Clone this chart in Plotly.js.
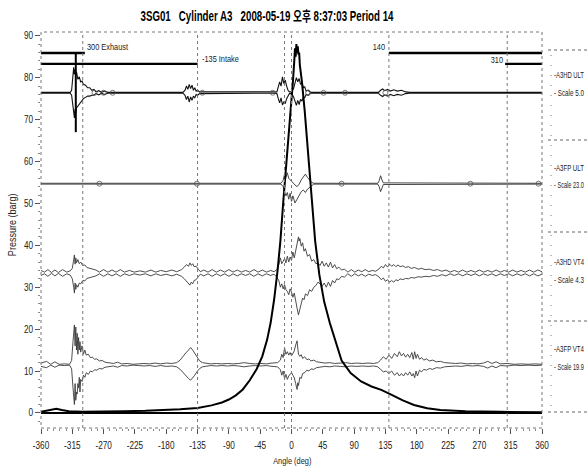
<!DOCTYPE html>
<html><head><meta charset="utf-8">
<script src="https://cdn.plot.ly/plotly-3.0.1.min.js"></script>
<style>html,body{margin:0;padding:0;background:#fff;overflow:hidden}#chart{width:587px;height:468px}</style>
</head><body><div id="chart"></div>
<script>
// ---------------- DATA ----------------
const angleTicks = [-360,-315,-270,-225,-180,-135,-90,-45,0,45,90,135,180,225,270,315,360];
const pressureTicks = [0,10,20,30,40,50,60,70,80,90];

// cylinder pressure curve [angle, barg]
const pressureCurve = [
 [-360,0.3],[-352,0.5],[-345,0.8],[-338,1.0],[-330,0.7],[-320,0.4],[-300,0.3],[-270,0.3],[-240,0.4],[-210,0.5],
 [-180,0.7],[-160,0.9],[-135,1.2],[-115,1.8],[-100,2.5],[-90,3.2],[-80,4.2],[-70,5.6],[-60,7.8],[-50,10.5],
 [-42,13.5],[-35,17.5],[-30,21.5],[-25,27],[-20,34],[-16,41],[-12,50],[-8,58],[-4,66],[0,73],
 [2,79],[4,84],[5,87],[6,85],[7,88],[8,86],[9,87.5],[10,85.5],[11,86],[12,83],
 [15,79],[19,72],[24,61],[29,50],[34,41],[40,33],[47,26.5],[55,21.5],[64,16.5],[72,12.5],
 [85,9.5],[100,7.5],[115,6.3],[129,5.5],[144,4.3],[160,3.0],[176,1.9],[195,1.1],[214,0.7],[250,0.4],
 [300,0.25],[360,0.15]
];

// A3HD ULT trace [angle, upper, lower]
const hdULT = [
 [-360,76.5,76.3],[-318,76.5,76.3],[-316,77.0,75.8],[-314,80.0,73.0],[-313,82.5,71.0],[-312,80.8,70.4],[-311,82.0,72.5],[-310,80.5,71.5],
 [-309,81.4,72.8],[-307,79.6,73.2],[-305,80.2,73.8],[-303,79.0,74.2],[-301,79.2,74.6],[-299,78.4,75.0],[-296,78.2,75.3],[-293,77.6,75.6],
 [-290,77.6,75.6],[-287,77.0,75.8],[-284,77.2,75.8],[-281,76.6,76.2],[-277,76.9,75.9],[-273,76.5,76.3],[-269,76.8,76.0],[-264,76.5,76.3],
 [-156,76.5,76.3],[-153,77.0,75.8],[-151,78.0,74.8],[-149,77.2,75.6],[-147,78.4,74.2],[-145,77.4,75.4],[-143,78.2,74.6],[-141,77.0,75.6],
 [-139,77.6,75.2],[-137,76.8,76.0],[-135,77.0,75.8],[-132,76.6,76.2],[-25,76.5,76.3],[-21,76.6,76.2],[-19,77.8,75.0],[-17,79.0,74.0],
 [-15,78.0,75.2],[-13,80.2,73.5],[-11,78.6,74.2],[-9,79.4,73.8],[-7,78.0,75.0],[-5,77.0,75.8],[-3,76.6,76.2],[0,76.6,76.2],
 [3,77.4,75.4],[5,78.8,74.4],[7,80.0,73.4],[9,79.0,74.6],[11,79.8,73.6],[13,78.4,74.8],[15,78.8,74.4],[17,77.6,75.4],
 [19,77.8,75.2],[21,76.8,76.0],[24,77.0,75.8],[27,76.5,76.3],[125,76.5,76.3],[128,77.0,75.8],[131,77.3,75.5],[134,76.9,75.9],
 [138,77.2,75.6],[142,76.8,76.0],[147,77.1,75.7],[152,76.8,76.0],[158,77.0,75.8],[164,76.6,76.2],[170,76.5,76.3],[360,76.5,76.3]
];
const hdULTloops = [-283,-270,-257,-128,-27,24,46,77,135];

// A3FP ULT trace [angle, upper, lower]
const fpULT = [
 [-360,54.8,54.6],[-15,54.8,54.6],[-12,55.5,54.0],[-10,57.0,53.0],[-8,56.2,51.8],[-6,57.3,52.6],[-4,56.0,51.0],[-2,55.6,52.4],
 [0,55.2,50.5],[2,54.8,51.8],[5,54.4,50.1],[8,54.0,51.0],[11,54.6,51.8],[14,55.6,52.8],[17,56.4,53.2],[20,57.0,52.6],
 [23,56.2,53.4],[26,55.6,53.8],[29,55.0,54.2],[32,54.8,54.6],[124,54.8,54.6],[126,55.4,54.0],[128,56.6,52.8],[130,55.6,53.6],
 [132,54.9,54.5],[360,54.8,54.6]
];
const fpULTloops = [-276,-136,72,257,355];

// A3HD VT4 trace [angle, upper, lower]
const hdVT = [
 [-360,34.0,32.8],[-355,33.6,33.2],[-350,34.2,32.6],[-345,33.5,33.3],[-340,34.1,32.7],[-335,33.5,33.3],[-329,34.2,32.6],[-323,33.6,33.2],
 [-318,33.9,32.9],[-315,34.5,32.0],[-313,36.5,30.0],[-312,37.7,28.6],[-311,35.5,31.0],[-310,37.0,29.5],[-309,35.8,30.6],[-307,36.6,30.0],
 [-305,35.6,31.0],[-303,36.0,30.8],[-300,35.2,31.6],[-297,35.3,31.5],[-294,34.7,32.1],[-290,34.5,32.3],[-286,34.2,32.6],[-281,34.1,32.7],
 [-276,33.6,33.2],[-270,34.2,32.6],[-264,33.6,33.2],[-258,34.1,32.7],[-252,33.6,33.2],[-246,34.2,32.6],[-240,33.6,33.2],[-233,34.0,32.8],
 [-226,33.6,33.2],[-218,33.9,32.9],[-210,33.6,33.2],[-202,34.1,32.7],[-195,33.6,33.2],[-188,34.0,32.8],[-180,33.7,33.1],[-172,34.1,32.7],
 [-165,33.7,33.1],[-158,34.2,32.6],[-154,34.8,32.0],[-151,35.4,31.4],[-148,35.0,31.0],[-146,35.8,30.5],[-144,35.2,31.2],[-142,35.6,30.8],
 [-140,34.9,31.6],[-137,35.0,31.8],[-134,34.3,32.5],[-131,33.7,33.1],[-126,34.1,32.7],[-120,33.6,33.2],[-114,34.2,32.6],[-108,33.6,33.2],
 [-102,34.1,32.7],[-96,33.6,33.2],[-90,34.2,32.6],[-84,33.6,33.2],[-78,34.1,32.7],[-72,33.6,33.2],[-66,34.0,32.8],[-60,33.6,33.2],
 [-54,34.2,32.6],[-48,33.6,33.2],[-42,34.1,32.7],[-36,33.6,33.2],[-30,34.0,32.8],[-25,33.7,33.1],[-21,34.2,32.4],[-18,35.5,31.5],
 [-16,37.0,30.0],[-14,35.6,30.8],[-12,36.2,29.6],[-10,36.8,30.6],[-8,35.8,29.4],[-6,37.4,29.0],[-4,36.0,28.2],[-2,37.2,29.6],
 [0,36.4,28.8],[2,38.4,27.6],[4,37.0,28.6],[6,39.0,26.4],[8,40.5,25.0],[10,42.0,23.4],[11,41.0,24.0],[12,41.6,24.8],
 [14,39.8,26.2],[16,40.6,27.4],[18,38.6,27.0],[20,39.2,28.4],[23,37.4,28.0],[26,37.8,29.4],[29,36.2,29.0],[32,36.6,30.0],
 [35,35.6,30.4],[38,35.8,31.2],[41,35.2,30.8],[44,36.2,30.2],[47,35.0,31.0],[50,35.8,30.0],[53,34.8,31.2],[56,36.0,30.2],
 [59,34.6,31.6],[62,35.4,31.0],[65,34.4,32.0],[68,34.8,31.8],[72,34.1,32.6],[76,34.3,32.4],[81,33.6,33.2],[86,34.2,32.6],
 [91,33.6,33.2],[96,34.1,32.7],[101,33.7,33.1],[106,34.2,32.6],[111,33.7,33.1],[116,34.0,32.8],[121,33.8,33.0],[126,34.4,32.4],
 [129,35.0,31.8],[132,34.6,32.2],[135,35.4,31.4],[138,34.8,31.8],[141,35.5,31.2],[144,35.0,31.6],[147,35.4,31.2],[150,34.9,31.8],
 [153,35.3,31.5],[156,34.9,32.0],[160,35.1,31.8],[164,34.7,32.1],[168,34.9,32.0],[172,34.5,32.3],[177,34.7,32.2],[182,34.3,32.5],
 [187,34.5,32.4],[192,34.2,32.6],[198,34.3,32.5],[204,34.0,32.8],[210,34.2,32.6],[216,33.8,33.0],[222,34.1,32.7],[228,33.6,33.2],
 [234,34.0,32.8],[240,33.6,33.2],[246,34.1,32.7],[252,33.6,33.2],[258,34.0,32.8],[264,33.6,33.2],[270,34.1,32.7],[276,33.6,33.2],
 [282,34.0,32.8],[288,33.6,33.2],[294,34.1,32.7],[300,33.6,33.2],[306,34.0,32.8],[312,33.6,33.2],[318,34.1,32.7],[324,33.6,33.2],
 [330,34.0,32.8],[336,33.6,33.2],[342,34.1,32.7],[348,33.6,33.2],[354,34.1,32.7],[360,33.7,33.1]
];

// A3FP VT4 trace [angle, upper, lower]
const fpVT = [
 [-360,11.9,11.1],[-352,12.3,10.8],[-346,11.6,11.4],[-340,12.2,10.9],[-334,11.6,11.4],[-326,11.7,11.3],[-319,11.6,11.4],[-316,12.5,10.5],
 [-314,17,6],[-312,21,2],[-311,16,7],[-310,20.5,3],[-309,15,5],[-308,19,4.5],[-307,14,7],[-306,18,6],
 [-305,15,8.5],[-304,17,5],[-303,14.5,8],[-301,16,7.5],[-299,14,9],[-297,15,8.5],[-295,13.8,9.6],[-292,14,9.2],
 [-289,13.2,10],[-286,13.3,9.8],[-283,12.8,10.3],[-280,12.9,10.2],[-276,12.4,10.6],[-272,12.5,10.5],[-268,12.1,10.9],[-262,12.0,11.0],
 [-256,11.8,11.2],[-250,12.1,10.9],[-244,11.7,11.3],[-236,11.8,11.2],[-228,11.6,11.4],[-220,11.7,11.3],[-212,11.8,11.2],[-204,11.7,11.3],
 [-196,11.9,11.1],[-188,11.7,11.3],[-180,11.9,11.1],[-172,11.8,11.2],[-165,12.0,11.0],[-160,12.6,10.4],[-156,13.5,9.6],[-152,14.3,8.8],
 [-148,15.0,8.2],[-145,15.6,7.8],[-142,15.0,8.3],[-139,14.2,9.0],[-136,13.2,9.8],[-132,12.4,10.6],[-128,12.0,11.0],[-122,11.9,11.1],
 [-116,11.7,11.3],[-108,11.8,11.2],[-100,11.7,11.3],[-92,11.8,11.2],[-84,11.7,11.3],[-76,11.8,11.2],[-68,12.0,11.0],[-60,11.8,11.2],
 [-52,11.7,11.3],[-44,11.8,11.2],[-36,11.7,11.3],[-28,11.9,11.1],[-20,12.0,11.0],[-16,12.6,10.3],[-14,14.0,9.0],[-12,13.2,10.0],
 [-10,15.5,8.2],[-8,14.0,9.2],[-6,14.6,8.0],[-4,13.8,8.8],[-2,14.4,9.2],[0,13.6,9.6],[2,14.2,9.0],[4,14.8,8.4],
 [6,16.2,7.0],[8,17.2,5.6],[9,15.5,7.2],[10,14.0,6.5],[12,13.5,8.5],[14,13.9,8.2],[16,13.0,9.4],[19,13.4,9.6],
 [22,12.7,10.2],[25,12.9,10.0],[28,12.4,10.5],[32,12.6,10.4],[36,12.2,10.8],[42,12.1,10.9],[48,11.9,11.1],[55,12.0,11.0],
 [62,11.8,11.2],[70,11.9,11.1],[78,12.0,11.0],[86,11.8,11.2],[94,11.9,11.1],[102,11.8,11.2],[110,11.9,11.1],[118,11.8,11.2],
 [124,12.0,11.0],[128,12.6,10.4],[132,13.4,9.8],[136,12.8,10.0],[140,13.8,9.4],[144,13.0,10.0],[148,14.2,9.0],[152,13.4,9.6],
 [155,14.6,8.8],[158,13.6,9.4],[161,14.2,8.8],[164,13.3,9.6],[167,14.0,9.0],[170,13.2,9.8],[173,14.4,8.8],[175,12.8,9.4],
 [177,14.6,8.4],[179,13.0,10.0],[181,14.0,8.8],[184,12.8,10.2],[187,13.2,9.8],[190,12.6,10.4],[194,12.9,10.2],[198,12.4,10.6],
 [203,12.6,10.4],[208,12.2,10.8],[214,12.3,10.7],[220,12.0,11.0],[228,11.9,11.1],[236,11.8,11.2],[244,11.9,11.1],[252,11.7,11.3],
 [260,11.8,11.2],[268,11.7,11.3],[276,11.9,11.1],[282,12.3,10.7],[288,11.8,11.2],[294,12.2,10.8],[300,11.7,11.3],[310,11.8,11.2],
 [320,11.6,11.4],[330,11.7,11.3],[340,11.6,11.4],[350,11.7,11.3],[360,11.6,11.4]
];

// valve timing events
const eventAngles = [-300, -135, -10, 0, 140, 310];
const eventLabels = ["300 Exhaust", "-135 Intake", "", "", "140", "310"];
const eventLabelLevels = [87.4, 84.5, 0, 0, 87.4, 84.2];
// valve bars [start, end, level]
const valveBars = [[-360,-297,85.9],[-360,-135,83.3],[140,360,85.9],[307,360,83.3]];
const valveDrop = [[-310,-310],[85.9,67.0]];

// side legend
const legendNames = ["A3HD ULT","A3FP ULT","A3HD VT4","A3FP VT4"];
const legendScales = ["Scale 5.0","Scale 23.0","Scale 4.3","Scale 19.9"];

// ---------------- LAYOUT HELPERS ----------------
const L=41, R=542, T=32, B=428, W=587, H=468;
const px2x = p => (p-L)/(R-L);
const py2y = p => (B-p)/(B-T);
const FONT = "'Liberation Sans Narrow','Liberation Sans',Arial,sans-serif";

const traces = [];
function band(data, color, width){
  traces.push({x:data.map(d=>d[0]), y:data.map(d=>d[1]), mode:'lines', line:{color, width}, hoverinfo:'skip'});
  traces.push({x:data.map(d=>d[0]), y:data.map(d=>d[2]), mode:'lines', line:{color, width}, hoverinfo:'skip'});
}
band(fpVT, '#3a3a3a', 0.9);
band(hdVT, '#3a3a3a', 0.9);
band(fpULT, '#333', 0.9);
band(hdULT, '#111', 1.1);
traces.push({x:hdULTloops, y:hdULTloops.map(()=>76.4), mode:'markers', marker:{symbol:'circle-open', size:5, color:'#555', line:{width:0.8}}, hoverinfo:'skip'});
traces.push({x:fpULTloops, y:fpULTloops.map(()=>54.7), mode:'markers', marker:{symbol:'circle-open', size:5, color:'#555', line:{width:0.8}}, hoverinfo:'skip'});
valveBars.forEach(b=>traces.push({x:[b[0],b[1]], y:[b[2],b[2]], mode:'lines', line:{color:'#000', width:2.4}, hoverinfo:'skip'}));
traces.push({x:valveDrop[0], y:valveDrop[1], mode:'lines', line:{color:'#000', width:2}, hoverinfo:'skip'});
traces.push({x:pressureCurve.map(d=>d[0]), y:pressureCurve.map(d=>d[1]), mode:'lines', line:{color:'#000', width:2}, hoverinfo:'skip'});

const shapes = [];
shapes.push({type:'rect', xref:'paper', yref:'paper', x0:0, x1:1, y0:0, y1:1, line:{color:'#777', width:1, dash:'dot'}});
eventAngles.forEach(a=>shapes.push({type:'line', xref:'x', yref:'paper', x0:a, x1:a, y0:0, y1:1, line:{color:'#777', width:1, dash:'dot'}}));
[50,140,232,321,412].forEach(p=>shapes.push({type:'line', xref:'paper', yref:'paper', x0:px2x(548), x1:px2x(590), y0:py2y(p), y1:py2y(p), line:{color:'#666', width:1, dash:'dot'}}));
shapes.push({type:'line', xref:'paper', yref:'paper', x0:px2x(551), x1:px2x(551), y0:py2y(55), y1:py2y(408), line:{color:'#777', width:1, dash:'1px,9px'}});

const annotations = [];
const anchorOf = [];   // how each annotation is condensed: 'start' | 'middle' | 'end' | 'legend'
eventAngles.forEach((a,i)=>{
  if(!eventLabels[i]) return;
  const right = a > 0;
  annotations.push({x:a, y:eventLabelLevels[i], xref:'x', yref:'y', text:eventLabels[i], showarrow:false,
    xanchor: right ? 'right':'left', xshift: right ? -2 : 2, font:{family:FONT, size:9, color:'#222'}});
  anchorOf.push(right ? 'end' : 'start');
});
legendNames.forEach((n,i)=>{
  const yn=[75,168,262,349][i], ys=[93,185,280,367][i];
  annotations.push({xref:'paper', yref:'paper', x:px2x(552), y:py2y(yn), text:'-'+n, showarrow:false, xanchor:'left', yanchor:'middle', font:{family:FONT, size:8.5, color:'#222'}});
  anchorOf.push('legend');
  annotations.push({xref:'paper', yref:'paper', x:px2x(552), y:py2y(ys), text:'- '+legendScales[i], showarrow:false, xanchor:'left', yanchor:'middle', font:{family:FONT, size:8.5, color:'#222'}});
  anchorOf.push('legend');
});
annotations.push({xref:'paper', yref:'paper', x:px2x(12), y:py2y(225), text:'Pressure (barg)', textangle:-90, showarrow:false, xanchor:'center', yanchor:'middle', font:{family:FONT, size:11, color:'#222'}});
anchorOf.push('middle');
annotations.push({xref:'paper', yref:'paper', x:px2x(292), y:py2y(461), text:'Angle (deg)', showarrow:false, xanchor:'center', yanchor:'middle', font:{family:FONT, size:9, color:'#222'}});
anchorOf.push('middle');

const layout = {
  width:W, height:H, showlegend:false,
  paper_bgcolor:'#fff', plot_bgcolor:'#fff',
  margin:{l:L, r:W-R, t:T, b:H-B, pad:0},
  title:{text:'3SG01\u00a0\u00a0\u00a0Cylinder A3\u00a0\u00a0\u00a02008-05-19 오후 8:37:03 Period 14', xref:'container', yref:'container', x:267/W, y:1-16/H, xanchor:'center', yanchor:'middle',
    font:{family:"'Liberation Sans Narrow','Liberation Sans','Noto Sans CJK KR',sans-serif", size:14, weight:'bold', color:'#000'}},
  xaxis:{range:[-360,360], tickvals:angleTicks, ticktext:angleTicks.map(String), ticks:'outside', ticklen:5, tickcolor:'#555',
    ticklabelstandoff:3,
    showgrid:false, zeroline:false, showline:false, tickfont:{family:FONT, size:10, color:'#222'},
    minor:{dtick:9, ticks:'outside', ticklen:2, tickcolor:'#888', showgrid:false}},
  yaxis:{range:[-3.6,90.9], tickvals:pressureTicks, ticktext:pressureTicks.map(String), ticks:'outside', ticklen:5, tickcolor:'#555',
    showgrid:false, zeroline:true, zerolinecolor:'#000', zerolinewidth:1.2, showline:false, tickfont:{family:FONT, size:10, color:'#222'},
    minor:{dtick:2, ticks:'outside', ticklen:2, tickcolor:'#888', showgrid:false}},
  shapes, annotations
};
Plotly.newPlot('chart', traces, layout, {staticPlot:true, displayModeBar:false}).then(gd=>{
  // emulate a narrow typeface by condensing glyphs horizontally
  const narrow = (el, target) => {
    const w = el.getComputedTextLength();
    if(!w) return 0;
    el.setAttribute('textLength', (target || w*0.82).toFixed(1));
    el.setAttribute('lengthAdjust','spacingAndGlyphs');
    return w;
  };
  // condense through a transform (keeps the measured box honest)
  const squeeze = (el, x0, s) => {
    el.setAttribute('transform', `translate(${x0.toFixed(2)},0) scale(${s.toFixed(3)},1) translate(${(-x0).toFixed(2)},0)`);
  };
  const t = gd.querySelector('.gtitle');
  if(t) narrow(t, 253);
  gd.querySelectorAll('.xtick text, .ytick text').forEach(el=>narrow(el));
  gd.querySelectorAll('.annotation').forEach(g=>{
    const idx = +g.getAttribute('data-index');
    const el = g.querySelector('.annotation-text');
    if(!el) return;
    const mode = anchorOf[idx];
    const w = el.getComputedTextLength();
    const cx = parseFloat(el.getAttribute('x')) || 0;
    if(mode === 'legend'){
      el.setAttribute('text-anchor','start');
      const x0 = cx - w/2;
      el.setAttribute('x', x0.toFixed(1));
      const left = el.getBoundingClientRect().left;
      const s = Math.min(0.82, (584 - left)/w);
      squeeze(el, x0, s);
      const bg = g.querySelector('rect.bg');
      if(bg){ bg.setAttribute('width', (w*s).toFixed(1)); }
    } else if(mode === 'start'){
      el.setAttribute('text-anchor','start');
      el.setAttribute('x', (cx - w/2).toFixed(1));
      narrow(el);
    } else if(mode === 'end'){
      el.setAttribute('text-anchor','end');
      el.setAttribute('x', (cx + w/2).toFixed(1));
      narrow(el);
    } else {
      narrow(el);
    }
  });
});
</script></body></html>
